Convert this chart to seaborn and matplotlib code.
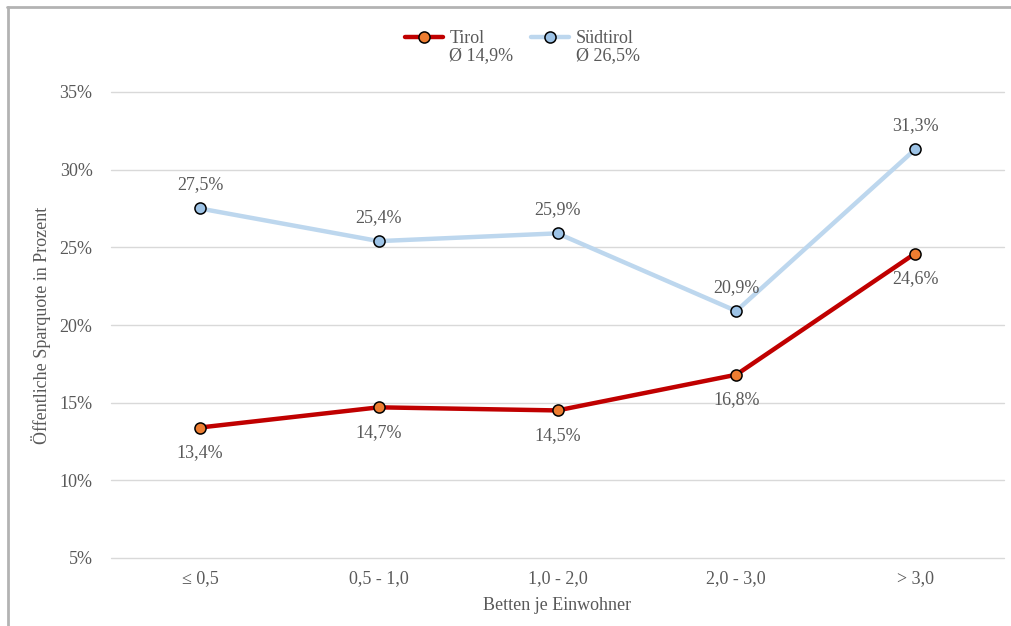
import matplotlib
matplotlib.use("Agg")
import matplotlib.pyplot as plt
import seaborn as sns
import pandas as pd
from matplotlib.lines import Line2D
from matplotlib.ticker import FuncFormatter

categories = ["≤ 0,5", "0,5 - 1,0", "1,0 - 2,0", "2,0 - 3,0", "> 3,0"]
tirol = [13.4, 14.7, 14.5, 16.8, 24.6]
suedtirol = [27.5, 25.4, 25.9, 20.9, 31.3]
series_names = ["Tirol", "Südtirol"]
averages = ["Ø 14,9%", "Ø 26,5%"]
y_ticks = [5, 10, 15, 20, 25, 30, 35]

sns.set_theme(style="white")
plt.rcParams["font.family"] = ["Liberation Serif", "DejaVu Serif"]
TXT = "#595959"
FS = 13

fig = plt.figure(figsize=(10.12, 6.26), dpi=100)
ax = fig.add_axes([110.6 / 1012, 68 / 626, 893.8 / 1012, 466 / 626])

df = pd.DataFrame({"cat": categories * 2,
                   "x": list(range(len(categories))) * 2,
                   "val": tirol + suedtirol,
                   "series": [series_names[0]] * 5 + [series_names[1]] * 5})

styles = {
    "Tirol": dict(line="#c00000", face="#ed7d31"),
    "Südtirol": dict(line="#bdd7ee", face="#9dc3e6"),
}

for name in ["Südtirol", "Tirol"]:
    sub = df[df.series == name]
    st = styles[name]
    sns.lineplot(data=sub, x="x", y="val", ax=ax, color=st["line"], lw=3.2,
                 marker="o", markersize=8, markerfacecolor=st["face"],
                 markeredgecolor="black", markeredgewidth=1.1, sort=False,
                 legend=False, zorder=3 if name == "Tirol" else 2)

for i, v in enumerate(suedtirol):
    ax.annotate(f"{v:.1f}%".replace(".", ","), (i, v), xytext=(0, 17),
                textcoords="offset points", ha="center", va="center",
                fontsize=FS, color=TXT)
for i, v in enumerate(tirol):
    ax.annotate(f"{v:.1f}%".replace(".", ","), (i, v), xytext=(0, -18),
                textcoords="offset points", ha="center", va="center",
                fontsize=FS, color=TXT)

ax.set_xlim(-0.5, 4.5)
ax.set_ylim(5, 35)
ax.set_yticks(y_ticks)
ax.yaxis.set_major_formatter(FuncFormatter(lambda v, p: f"{v:.0f}%"))
ax.set_xticks(range(len(categories)))
ax.set_xticklabels(categories)
ax.grid(axis="y", color="#d9d9d9", lw=1)
ax.grid(axis="x", visible=False)
for gl in ax.get_ygridlines():
    gl.set_clip_on(False)
for s in ax.spines.values():
    s.set_visible(False)
ax.tick_params(axis="y", length=0, pad=13, labelsize=FS, labelcolor=TXT)
ax.tick_params(axis="x", length=0, pad=9, labelsize=FS, labelcolor=TXT)
ax.set_xlabel("Betten je Einwohner", fontsize=FS, color=TXT, labelpad=7)
ax.set_ylabel("Öffentliche Sparquote in Prozent", fontsize=FS, color=TXT, labelpad=6)

handles, labels = [], []
for name, avg in zip(series_names, averages):
    st = styles[name]
    handles.append(Line2D([], [], color=st["line"], lw=3.2, marker="o", markersize=8,
                          markerfacecolor=st["face"], markeredgecolor="black",
                          markeredgewidth=1.1))
    labels.append(name)
    handles.append(Line2D([], [], color="none"))
    labels.append(avg)
leg = fig.legend(handles, labels, loc="upper left", bbox_to_anchor=(405 / 1012, 1 - 30 / 626),
                 ncol=2, frameon=False, fontsize=FS, handlelength=2.1, handletextpad=0.35,
                 columnspacing=1.0, labelspacing=0.02, borderpad=0, borderaxespad=0,
                 labelcolor=TXT)

# outer chart border (left and top only visible)
fig.add_artist(Line2D([8 / 1012, 8 / 1012], [0, 1 - 7 / 626], transform=fig.transFigure,
                      color="#b3b3b3", lw=2))
fig.add_artist(Line2D([7 / 1012, 1], [1 - 7 / 626, 1 - 7 / 626], transform=fig.transFigure,
                      color="#b3b3b3", lw=2))

fig.savefig("out.png", dpi=100)
